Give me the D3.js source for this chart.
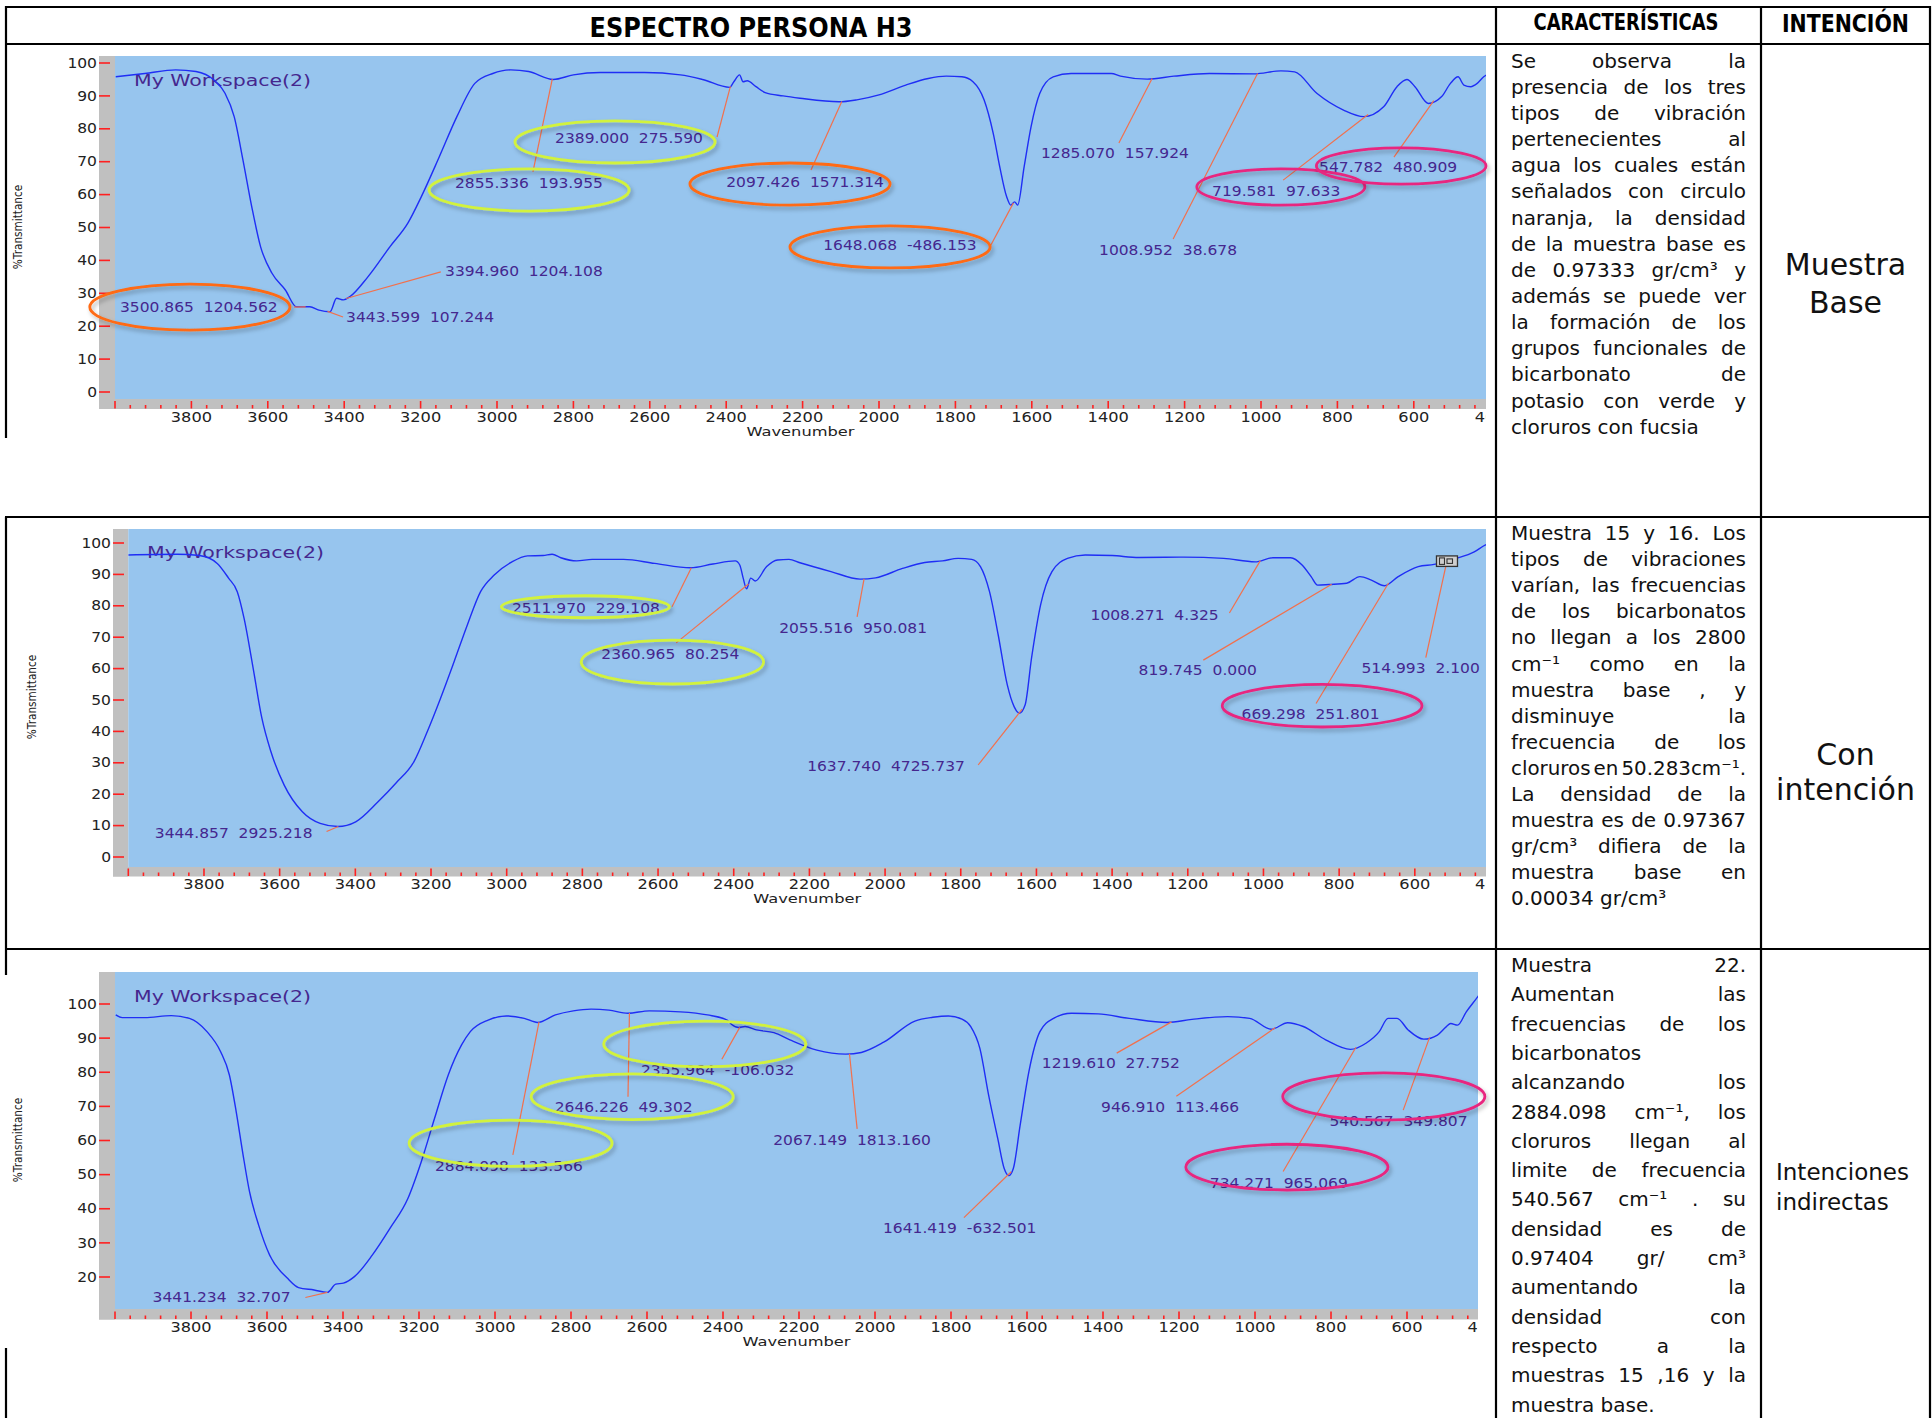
<!DOCTYPE html>
<html><head><meta charset="utf-8">
<script src="https://cdn.jsdelivr.net/npm/d3@7/dist/d3.min.js"></script>
<style>
html,body{margin:0;padding:0;background:#fff;}
svg{display:block;}
text{font-family:"DejaVu Sans",sans-serif;}
</style></head>
<body>
<svg id="page" width="1932" height="1418"></svg>
<script>
// ================= DATA =================
const titleText = "ESPECTRO PERSONA H3";
const columnHeads = ["CARACTERÍSTICAS", "INTENCIÓN"];
const wavenumberTicks = [3800,3600,3400,3200,3000,2800,2600,2400,2200,2000,1800,1600,1400,1200,1000,800,600,400];
const transmittanceTicks = [0,10,20,30,40,50,60,70,80,90,100];
const transmittanceTicksShort = [20,30,40,50,60,70,80,90,100];
const workspaceName = "My Workspace(2)";
const xTitle = "Wavenumber";
const yTitle = "%Transmittance";

// [wavenumber, %T]
const baseSpectrum = [[3998,95.8],[3922,96.8],[3841,97.9],[3788,97.4],[3741,94.8],[3712,90.8],[3688,83.7],[3665,70.5],[3642,56.3],[3619,44.2],[3589,36.1],[3554,31.0],[3525,25.9],[3490,25.9],[3466,24.9],[3437,24.4],[3420,28.5],[3402,28.0],[3385,29.0],[3338,35.0],[3280,44.2],[3233,51.4],[3198,59.4],[3151,71.5],[3105,83.7],[3058,93.8],[3011,96.8],[2964,97.9],[2917,97.4],[2853,95.0],[2800,96.4],[2730,97.1],[2614,97.1],[2520,96.4],[2462,95.0],[2391,92.6],[2380,94.3],[2365,96.4],[2356,94.3],[2345,94.6],[2322,92.8],[2298,91.0],[2251,90.0],[2207,89.3],[2105,88.2],[2058,88.8],[2000,90.3],[1930,93.3],[1871,95.3],[1824,96.0],[1783,95.8],[1754,94.3],[1725,88.8],[1701,78.6],[1684,68.5],[1666,59.4],[1655,56.8],[1645,57.8],[1637,56.8],[1620,68.5],[1602,80.6],[1579,90.8],[1544,95.8],[1497,96.8],[1392,96.8],[1368,96.0],[1298,95.1],[1228,96.0],[1135,96.8],[1018,96.7],[948,97.6],[912,97.3],[854,90.8],[784,85.7],[731,83.7],[679,86.7],[644,92.8],[618,95.0],[597,92.8],[562,87.7],[527,89.8],[504,93.8],[484,95.8],[469,93.3],[451,92.8],[434,93.8],[417,95.8],[408,96.5]];
const sample1516Spectrum = [[4000,96.2],[3871,96.4],[3812,96.0],[3765,93.5],[3735,88.8],[3712,84.5],[3694,76.0],[3670,60.1],[3647,44.2],[3623,33.5],[3588,22.9],[3540,14.4],[3493,10.7],[3446,9.7],[3399,11.2],[3340,17.6],[3293,23.5],[3245,30.4],[3210,39.9],[3175,50.5],[3139,62.2],[3104,73.9],[3069,84.5],[3033,89.8],[2986,94.0],[2945,95.9],[2904,96.0],[2880,96.4],[2857,95.3],[2815,94.3],[2774,94.8],[2691,94.8],[2609,93.5],[2514,92.1],[2455,93.3],[2396,94.3],[2384,93.0],[2375,88.8],[2366,85.4],[2355,88.8],[2343,87.9],[2313,92.5],[2284,94.6],[2254,94.8],[2225,93.7],[2143,90.9],[2066,88.5],[2025,88.9],[1954,91.9],[1895,93.8],[1848,94.3],[1807,95.1],[1771,94.8],[1748,92.5],[1724,84.5],[1701,70.7],[1677,54.8],[1659,47.9],[1645,45.8],[1630,48.4],[1613,63.3],[1589,80.3],[1559,90.9],[1518,95.1],[1471,96.2],[1400,96.0],[1329,95.4],[1211,95.5],[1105,95.1],[1022,94.0],[975,95.3],[928,95.3],[898,93.0],[874,89.3],[857,86.6],[827,86.8],[780,87.2],[745,89.3],[715,88.2],[680,86.4],[644,89.3],[591,92.5],[549,93.2],[490,95.1],[443,97.2],[413,99.4],[405,99.8]];
const sample22Spectrum = [[3998,96.8],[3981,96.0],[3922,96.0],[3852,96.6],[3804,95.8],[3758,91.9],[3722,86.0],[3699,79.2],[3681,68.4],[3663,55.8],[3646,45.0],[3622,35.2],[3593,26.4],[3546,19.6],[3517,16.9],[3476,16.2],[3441,15.5],[3419,17.9],[3399,18.2],[3370,20.1],[3323,26.4],[3276,34.3],[3229,43.1],[3194,53.8],[3159,66.5],[3123,79.2],[3088,88.0],[3065,91.9],[3018,95.3],[2970,96.5],[2923,95.8],[2888,94.6],[2841,96.8],[2794,98.0],[2747,98.5],[2700,98.2],[2650,97.3],[2594,98.0],[2512,97.7],[2441,96.8],[2389,95.3],[2377,94.0],[2359,93.1],[2342,93.4],[2312,92.4],[2266,91.6],[2224,89.5],[2153,86.5],[2077,85.3],[2036,85.8],[1977,88.8],[1895,95.0],[1848,96.1],[1807,96.5],[1771,95.6],[1748,93.4],[1724,87.0],[1701,73.3],[1677,60.6],[1660,51.8],[1648,49.7],[1636,51.8],[1618,64.5],[1595,80.2],[1566,91.9],[1530,95.8],[1483,97.3],[1413,97.1],[1331,95.8],[1231,94.6],[1166,95.5],[1072,96.3],[1014,95.8],[957,92.6],[914,94.5],[873,93.4],[814,89.5],[749,86.7],[708,88.5],[673,91.9],[650,95.8],[626,95.8],[597,92.4],[556,89.7],[520,90.9],[497,93.3],[485,94.3],[467,93.8],[444,97.7],[414,102.1],[405,103.5]];

// peak labels: [wavenumber, intensity]
const basePeaks = [["3500.865","1204.562"],["3443.599","107.244"],["3394.960","1204.108"],["2855.336","193.955"],["2389.000","275.590"],["2097.426","1571.314"],["1648.068","-486.153"],["1285.070","157.924"],["1008.952","38.678"],["719.581","97.633"],["547.782","480.909"]];
const sample1516Peaks = [["3444.857","2925.218"],["2511.970","229.108"],["2360.965","80.254"],["2055.516","950.081"],["1637.740","4725.737"],["1008.271","4.325"],["819.745","0.000"],["669.298","251.801"],["514.993","2.100"]];
const sample22Peaks = [["3441.234","32.707"],["2884.098","133.566"],["2646.226","49.302"],["2355.964","-106.032"],["2067.149","1813.160"],["1641.419","-632.501"],["1219.610","27.752"],["946.910","113.466"],["734.271","965.069"],["540.567","349.807"]];

const characteristicsBase = ["Se observa la","presencia de los tres","tipos de vibración","pertenecientes al","agua los cuales están","señalados con circulo","naranja, la densidad","de la muestra base es","de 0.97333 gr/cm³ y","además se puede ver","la formación de los","grupos funcionales de","bicarbonato de","potasio con verde y","cloruros con fucsia"];
const characteristics1516 = ["Muestra 15 y 16. Los","tipos de vibraciones","varían, las frecuencias","de los bicarbonatos","no llegan a los 2800","cm⁻¹ como en la","muestra base , y","disminuye la","frecuencia de los","cloruros en 50.283cm⁻¹.","La densidad de la","muestra es de 0.97367","gr/cm³ difiera de la","muestra base en","0.00034 gr/cm³"];
const characteristics22 = ["Muestra 22.","Aumentan las","frecuencias de los","bicarbonatos","alcanzando los","2884.098 cm⁻¹, los","cloruros llegan al","limite de frecuencia","540.567 cm⁻¹ . su","densidad es de","0.97404 gr/ cm³","aumentando la","densidad con","respecto a la","muestras 15 ,16 y la","muestra base."];
const intentionBase = ["Muestra","Base"];
const intention1516 = ["Con","intención"];
const intention22 = ["Intenciones","indirectas"];

// ================= LAYOUT (data units: wavenumber, %T) =================
// label placement: [labelWn, labelT, leaderEndWn, leaderEndT]
const baseLabelAt = [[3987,25.8,3531,25.8],[3395,22.8,3403,22.8],[3136,36.8,3147,36.5],[3110,63.5,2906,66.9],[2848,77.2,2424,77.5],[2400,63.8,2178,67.5],[2146,44.7,1707,44.7],[1576,72.6,1372,75.7],[1424,43.2,1230,46.5],[1128,61.1,942,64.4],[848,68.4,652,71.4]];
const sample1516LabelAt = [[3930,7.7,3476,8.1],[2986,79.4,2563,79.7],[2750,64.6,2552,68.2],[2280,73.0,2074,76.5],[2206,29.0,1754,29.3],[1457,77.1,1090,77.7],[1330,59.6,1159,62.7],[1058,45.5,861,48.9],[741,60.2,571,63.5]];
const sample22LabelAt = [[3901,14.2,3499,14.0],[3158,52.5,2953,55.8],[2843,69.7,2650,72.8],[2616,80.7,2403,83.8],[2268,60.1,2047,63.4],[1979,34.3,1766,37.4],[1561,82.6,1364,85.6],[1405,69.7,1207,73.0],[1119,47.6,926,50.9],[804,65.8,610,68.9]];
// rings: [color, centerWn, centerT, radiusWn, radiusT]
const baseRings = [["orange",3804,25.8,262,7.0],["green",2916,61.4,262,6.4],["green",2691,76.0,262,6.4],["orange",2233,63.2,262,6.4],["orange",1971,44.1,262,6.4],["fuchsia",948,62.3,220,5.5],["fuchsia",633,68.7,222,5.5]];
const sample1516Rings = [["green",2792,79.7,222,3.5],["green",2562,62.1,241,7.0],["fuchsia",845,48.2,264,6.8]];
const sample22Rings = [["green",2959,59.2,267,6.8],["green",2639,72.8,266,6.7],["green",2448,88.3,266,6.7],["fuchsia",916,52.2,266,6.7],["fuchsia",661,72.9,266,6.9]];

const ringColors = {orange:"#ff6a12", green:"#d2f23c", fuchsia:"#e8267f"};
const labelColor = "#45278e";

const layouts = [
  {grayLeft:99, left:115, right:1486, top:56, bottom:399, grayBottom:409, x400:1490.2, y0:392, y100:63, tickY:417, titleY:431, yLabelX:18, yLabelY:227, wsX:134, wsY:80},
  {grayLeft:113, left:128.3, right:1486, top:529, bottom:867, grayBottom:876.5, x400:1490.5, y0:857, y100:543, tickY:884, titleY:898, yLabelX:32, yLabelY:697, wsX:147, wsY:552},
  {grayLeft:99, left:115, right:1478, top:972, bottom:1309, grayBottom:1319.5, x400:1483, y0:1345.25, y100:1004, tickY:1327, titleY:1341, yLabelX:18, yLabelY:1140, wsX:134, wsY:996}
];

// ================= DRAW =================
const svg = d3.select("#page");
const defs = svg.append("defs");
const shadow = defs.append("filter").attr("id","ringShadow").attr("x","-20%").attr("y","-50%").attr("width","140%").attr("height","200%");
shadow.append("feDropShadow").attr("dx",2).attr("dy",3).attr("stdDeviation",2.2).attr("flood-color","#000").attr("flood-opacity",0.28);

function stretchedText(parent, x, y, str, opt) {
  return parent.append("text")
    .attr("transform", `translate(${x},${y}) scale(${opt.sx||1},1)`)
    .attr("text-anchor", opt.anchor||"start")
    .attr("dominant-baseline", "central")
    .attr("font-size", opt.size)
    .attr("fill", opt.fill||"#222")
    .style("white-space","pre")
    .text(str);
}

function interp(spec, wn) {
  for (let i = 0; i < spec.length-1; i++) {
    const a = spec[i], b = spec[i+1];
    if (wn <= a[0] && wn >= b[0]) {
      const t = (a[0]-wn)/(a[0]-b[0]);
      return a[1] + t*(b[1]-a[1]);
    }
  }
  return spec[spec.length-1][1];
}

function drawSpectrum(id, spec, peaks, labelAt, rings, yTicks, L, iconPeak) {
  const x = d3.scaleLinear().domain([4000,400]).range([L.left, L.x400]);
  const y = d3.scaleLinear().domain([0,100]).range([L.y0, L.y100]);
  const g = svg.append("g");
  g.append("rect").attr("x",L.grayLeft).attr("y",L.top).attr("width",L.left-L.grayLeft).attr("height",L.grayBottom-L.top).attr("fill","#c0c0c0");
  g.append("rect").attr("x",L.grayLeft).attr("y",L.bottom).attr("width",L.right-L.grayLeft).attr("height",L.grayBottom-L.bottom).attr("fill","#c0c0c0");
  g.append("rect").attr("x",L.left).attr("y",L.top).attr("width",L.right-L.left).attr("height",L.bottom-L.top).attr("fill","#97c5ee");

  defs.append("clipPath").attr("id","plot"+id).append("rect")
    .attr("x",L.left).attr("y",L.top).attr("width",L.right-L.left).attr("height",L.bottom-L.top);
  defs.append("clipPath").attr("id","axis"+id).append("rect")
    .attr("x",0).attr("y",L.bottom-30).attr("width",L.right-0.5).attr("height",80);

  // y axis
  g.append("g").selectAll("line").data(yTicks).join("line")
    .attr("x1",L.grayLeft).attr("x2",L.grayLeft+11)
    .attr("y1",d=>y(d)).attr("y2",d=>y(d))
    .attr("stroke","#ff2020").attr("stroke-width",1.6);
  yTicks.forEach(t => stretchedText(g, L.grayLeft-2, y(t), String(t), {size:13.5, sx:1.15, anchor:"end"}));

  // x axis
  const xt = d3.range(4000, 399, -40).filter(v => x(v) <= L.right+0.5);
  g.append("g").selectAll("line").data(xt).join("line")
    .attr("x1",d=>x(d)).attr("x2",d=>x(d))
    .attr("y1",d=> d%200===0 ? L.grayBottom-8 : L.grayBottom-4)
    .attr("y2",L.grayBottom-0.5)
    .attr("stroke","#ff2020").attr("stroke-width",1.6);
  const xl = g.append("g").attr("clip-path",`url(#axis${id})`);
  wavenumberTicks.forEach(t => stretchedText(xl, x(t), L.tickY, String(t), {size:13.5, sx:1.2, anchor:"middle"}));
  stretchedText(g, (L.left+L.right)/2, L.titleY, xTitle, {size:13, sx:1.25, anchor:"middle"});
  g.append("text")
    .attr("transform",`translate(${L.yLabelX},${L.yLabelY}) scale(1.25,1) rotate(-90)`)
    .attr("text-anchor","middle").attr("dominant-baseline","central")
    .attr("font-size",10.5).attr("fill","#222").text(yTitle);

  // workspace label
  stretchedText(g, L.wsX, L.wsY, workspaceName, {size:16, sx:1.28, fill:labelColor});

  // spectrum
  g.append("path").datum(spec)
    .attr("clip-path",`url(#plot${id})`)
    .attr("d", d3.line().x(d=>x(d[0])).y(d=>y(d[1])).curve(d3.curveMonotoneX))
    .attr("fill","none").attr("stroke","#1f2ef5").attr("stroke-width",1.4);

  // leaders
  peaks.forEach((p,i) => {
    const wn = +p[0], a = labelAt[i];
    g.append("line")
      .attr("x1",x(wn)).attr("y1",y(interp(spec,wn)))
      .attr("x2",x(a[2])).attr("y2",y(a[3]))
      .attr("stroke","#f2704c").attr("stroke-width",1.2);
  });
  // icon marker
  if (iconPeak != null) {
    const wn = +peaks[iconPeak][0];
    const cx = x(wn), cy = y(interp(spec,wn));
    const ic = g.append("g").attr("transform",`translate(${cx},${cy})`);
    ic.append("rect").attr("x",-10.5).attr("y",-5).attr("width",21).attr("height",10.5).attr("fill","#cfcfcf").attr("stroke","#333").attr("stroke-width",1.3);
    ic.append("rect").attr("x",-7.5).attr("y",-3).attr("width",5).attr("height",6.5).attr("fill","none").attr("stroke","#333").attr("stroke-width",1.1);
    ic.append("rect").attr("x",0).attr("y",-2).attr("width",5.5).attr("height",4.5).attr("fill","none").attr("stroke","#333").attr("stroke-width",1.1);
  }
  // labels
  peaks.forEach((p,i) => stretchedText(g, x(labelAt[i][0]), y(labelAt[i][1]), `${p[0]}  ${p[1]}`, {size:14.5, sx:1.07, fill:labelColor}));

  // rings
  rings.forEach(r => g.append("ellipse")
    .attr("cx",x(r[1])).attr("cy",y(r[2]))
    .attr("rx",Math.abs(x(4000-r[3])-x(4000))).attr("ry",Math.abs(y(r[4])-y(0)))
    .attr("fill","none").attr("stroke",ringColors[r[0]]).attr("stroke-width",2.8)
    .attr("filter","url(#ringShadow)"));
}

drawSpectrum(1, baseSpectrum, basePeaks, baseLabelAt, baseRings, transmittanceTicks, layouts[0], null);
drawSpectrum(2, sample1516Spectrum, sample1516Peaks, sample1516LabelAt, sample1516Rings, transmittanceTicks, layouts[1], 8);
drawSpectrum(3, sample22Spectrum, sample22Peaks, sample22LabelAt, sample22Rings, transmittanceTicksShort, layouts[2], null);

// ----- table -----
const grid = svg.append("g").attr("stroke","#000").attr("stroke-width",2.2);
[7,44,517,949].forEach(yy => grid.append("line").attr("x1",5).attr("x2",1931).attr("y1",yy).attr("y2",yy));
[1496,1761,1930].forEach(xx => grid.append("line").attr("x1",xx).attr("x2",xx).attr("y1",6).attr("y2",1418));
[[6,438],[517,975],[1348,1418]].forEach(s => grid.append("line").attr("x1",6).attr("x2",6).attr("y1",s[0]).attr("y2",s[1]));

svg.append("text").attr("x",751).attr("y",37.3).attr("text-anchor","middle")
  .attr("font-family","Liberation Sans, Arial, sans-serif").attr("font-weight","bold").attr("font-size",26.5)
  .attr("textLength",323).attr("lengthAdjust","spacingAndGlyphs").attr("fill","#000").text(titleText);
svg.append("text").attr("x",1626).attr("y",30).attr("text-anchor","middle")
  .attr("font-family","Liberation Sans, Arial, sans-serif").attr("font-weight","bold").attr("font-size",23)
  .attr("textLength",185).attr("lengthAdjust","spacingAndGlyphs").attr("fill","#000").text(columnHeads[0]);
svg.append("text").attr("x",1845.5).attr("y",32).attr("text-anchor","middle")
  .attr("font-family","Liberation Sans, Arial, sans-serif").attr("font-weight","bold").attr("font-size",24)
  .attr("textLength",127).attr("lengthAdjust","spacingAndGlyphs").attr("fill","#000").text(columnHeads[1]);

function justifyBlock(lines, x0, x1, baseline, lh, size) {
  const g = svg.append("g").attr("fill","#111").attr("font-size",size);
  lines.forEach((ln, i) => {
    const yy = baseline + i*lh;
    const words = ln.split(" ").filter(Boolean);
    const nodes = words.map(w => g.append("text").attr("y",yy).text(w));
    const widths = nodes.map(n => n.node().getComputedTextLength());
    const sum = d3.sum(widths);
    const last = i === lines.length-1;
    let gap = size*0.32, scale = 1;
    if (!last && words.length > 1) gap = (x1-x0-sum)/(words.length-1);
    if (gap < 3) { gap = 3; scale = (x1-x0-3*(words.length-1))/sum; }
    let xx = x0;
    nodes.forEach((n,k) => {
      n.attr("x",xx);
      if (scale < 1) n.attr("textLength",widths[k]*scale).attr("lengthAdjust","spacingAndGlyphs");
      xx += widths[k]*scale + gap;
    });
  });
}
justifyBlock(characteristicsBase, 1511, 1746, 67.7, 26.14, 20);
justifyBlock(characteristics1516, 1511, 1746, 540, 26.1, 20);
justifyBlock(characteristics22, 1511, 1746, 972, 29.3, 20);

function plainLines(lines, x, baselines, size, anchor) {
  lines.forEach((t,i) => svg.append("text").attr("x",x).attr("y",baselines[i])
    .attr("text-anchor",anchor).attr("font-size",size).attr("fill","#111").text(t));
}
plainLines(intentionBase, 1845.5, [275,313], 30, "middle");
plainLines(intention1516, 1845.5, [765,800], 30, "middle");
plainLines(intention22, 1776, [1180,1210], 23, "start");
</script>
</body></html>
